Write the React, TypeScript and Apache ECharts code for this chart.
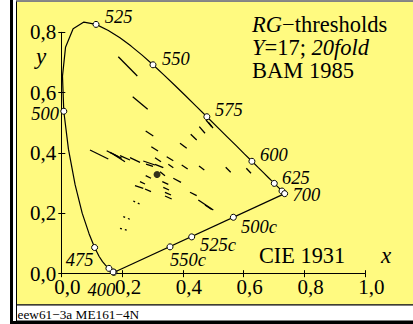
import { useEffect, useRef } from 'react';
import * as echarts from 'echarts';

// CIE 1931 spectral locus (2°)
const wavelengths = [380,385,390,395,400,405,410,415,420,425,430,435,440,445,450,455,460,465,470,475,480,485,490,495,500,505,510,515,520,525,530,535,540,545,550,555,560,565,570,575,580,585,590,595,600,605,610,615,620,625,630,635,640,645,650,660,670,680,690,700];
const locusX = [0.1741,0.1740,0.1738,0.1736,0.1733,0.1730,0.1726,0.1721,0.1714,0.1703,0.1689,0.1669,0.1644,0.1611,0.1566,0.1510,0.1440,0.1355,0.1241,0.1096,0.0913,0.0687,0.0454,0.0235,0.0082,0.0039,0.0139,0.0389,0.0743,0.1142,0.1547,0.1929,0.2296,0.2658,0.3016,0.3373,0.3731,0.4087,0.4441,0.4788,0.5125,0.5448,0.5752,0.6029,0.6270,0.6482,0.6658,0.6801,0.6915,0.7006,0.7079,0.7140,0.7190,0.7230,0.7260,0.7300,0.7320,0.7334,0.7344,0.7347];
const locusY = [0.0050,0.0050,0.0049,0.0049,0.0048,0.0048,0.0048,0.0048,0.0051,0.0058,0.0069,0.0086,0.0109,0.0138,0.0177,0.0227,0.0297,0.0399,0.0578,0.0868,0.1327,0.2007,0.2950,0.4127,0.5384,0.6548,0.7502,0.8120,0.8338,0.8262,0.8059,0.7816,0.7543,0.7243,0.6923,0.6589,0.6245,0.5896,0.5547,0.5202,0.4866,0.4544,0.4242,0.3965,0.3725,0.3514,0.3340,0.3197,0.3083,0.2993,0.2920,0.2859,0.2809,0.2770,0.2740,0.2700,0.2680,0.2666,0.2656,0.2653];

const markedWavelengths = [400, 425, 450, 475, 500, 525, 550, 575, 600, 625, 650, 700];
const labeledWavelengths = [400, 475, 500, 525, 550, 575, 600, 625, 700];

const complementaryNames = ['500c', '525c', '550c'];
const complementaryX = [0.566, 0.429, 0.3576];
const complementaryY = [0.187, 0.122, 0.089];

const whitePoint = [0.315, 0.329];

// threshold segments [x1, y1, x2, y2]
const thresholdSegments = [
  [0.1875,0.7191,0.2500,0.6552],
  [0.2349,0.5866,0.2842,0.5448],
  [0.2776,0.4729,0.3026,0.4563],
  [0.2961,0.4209,0.3181,0.4066],
  [0.3905,0.4321,0.4125,0.4156],
  [0.4257,0.4620,0.4454,0.4431],
  [0.4539,0.4872,0.4727,0.4653],
  [0.4760,0.5094,0.4947,0.4872],
  [0.4842,0.5011,0.4990,0.4829],
  [0.0944,0.4099,0.1546,0.3801],
  [0.1493,0.4076,0.1875,0.3877],
  [0.1602,0.4023,0.1987,0.3824],
  [0.1711,0.3957,0.2095,0.3712],
  [0.1931,0.3911,0.2260,0.3768],
  [0.2260,0.3844,0.2589,0.3692],
  [0.2697,0.3735,0.3082,0.3602],
  [0.2786,0.3635,0.3016,0.3559],
  [0.3082,0.3626,0.3355,0.3513],
  [0.3082,0.3844,0.3280,0.3712],
  [0.3467,0.3877,0.3684,0.3745],
  [0.3520,0.3626,0.3684,0.3513],
  [0.3961,0.3602,0.4158,0.3470],
  [0.4530,0.3569,0.4704,0.3437],
  [0.5408,0.3526,0.5572,0.3360],
  [0.6086,0.3493,0.6240,0.3327],
  [0.2776,0.3248,0.2951,0.3162],
  [0.3247,0.3380,0.3411,0.3248],
  [0.3684,0.3162,0.3938,0.3029],
  [0.2589,0.3049,0.2753,0.2973],
  [0.2424,0.2916,0.2697,0.2830],
  [0.2753,0.2807,0.2951,0.2717],
  [0.3322,0.3049,0.3520,0.2963],
  [0.3355,0.2863,0.3543,0.2774],
  [0.3411,0.2698,0.3609,0.2608],
  [0.3411,0.2575,0.3632,0.2476],
  [0.4234,0.2698,0.4454,0.2585],
  [0.4507,0.2442,0.5000,0.2111],
  [0.4727,0.2277,0.4947,0.2128],
];
const dottedSegments = [
  [0.2368,0.2409,0.2645,0.2277],
  [0.2039,0.1889,0.2316,0.1780],
  [0.1931,0.1505,0.2151,0.1448],
];

const xTicks = [0, 0.2, 0.4, 0.6, 0.8, 1.0];
const yTicks = [0, 0.2, 0.4, 0.6, 0.8];

const titleLines = ['{i|RG}\u2212thresholds', '{i|Y}=17; {i|20fold}', 'BAM 1985'];
const footerText = 'eew61\u22123a ME161\u22124N';

// label offsets in pixels (style)
const labelOffsets: Record<string, [number, number]> = {
  '400': [-12.7, 18], '475': [-15, 12], '500': [-18.6, 2.3], '525': [22.5, -7],
  '550': [22.8, -6], '575': [22, -6.7], '600': [22, -6], '625': [21.7, -5.4],
  '700': [21.8, 1.7], '500c': [25.6, 10.2], '525c': [26.3, 8], '550c': [18, 13],
};

const SERIF = '"Liberation Serif", "Times New Roman", serif';
const fmt = (v: number) => v.toFixed(1).replace('.', ',');

export default function App() {
  const ref = useRef<HTMLDivElement>(null);
  useEffect(() => {
    if (!ref.current) return;
    const chart = echarts.init(ref.current, undefined, { renderer: 'svg' });
    const locus = wavelengths.map((_, i) => [locusX[i], locusY[i]]);
    const idx = (w: number) => wavelengths.indexOf(w);
    const purple = [[locusX[idx(700)], locusY[idx(700)]], [locusX[0], locusY[0]]];
    const labelStyle = (name: string) => ({
      show: true, formatter: name, position: 'inside', align: 'center', verticalAlign: 'middle',
      offset: labelOffsets[name], fontFamily: SERIF, fontStyle: 'italic', fontSize: 18.5, color: '#000',
    });
    const markers: any[] = markedWavelengths.map((w) => {
      const i = idx(w);
      const item: any = { value: [locusX[i], locusY[i]], name: String(w) };
      item.label = labeledWavelengths.includes(w) ? labelStyle(String(w)) : { show: false };
      return item;
    });
    complementaryNames.forEach((n, i) => {
      markers.push({ value: [complementaryX[i], complementaryY[i]], name: n, label: labelStyle(n) });
    });
    const tickAxis = (min: number, max: number, inside: boolean, main: boolean, isY: boolean) => ({
      type: 'value', min, max, interval: 0.2,
      position: isY ? 'left' : 'bottom',
      axisLine: { show: main, onZero: false, lineStyle: { color: '#000', width: 1 } },
      axisTick: { show: true, inside, length: isY ? (inside ? 4 : 3) : 3.5, lineStyle: { color: '#000', width: 1 } },
      splitLine: { show: false },
      axisLabel: main
        ? {
            show: true, formatter: fmt, fontFamily: SERIF, fontSize: 21, color: '#000',
            margin: isY ? 5 : 3, ...(isY ? {} : { padding: [0, 0, 0, 12] }),
          }
        : { show: false },
    });
    chart.setOption({
      animation: false,
      backgroundColor: '#ffffff',
      grid: { left: 61.3, right: 47.7, top: 32.3, bottom: 50.3, containLabel: false },
      xAxis: [tickAxis(0, 1, false, true, false), tickAxis(0, 1, true, false, false)],
      yAxis: [tickAxis(0, 0.8, false, true, true), tickAxis(0, 0.8, true, false, true)],
      graphic: [
        { type: 'rect', z: -10, shape: { x: 10, y: 0, width: 3, height: 324 }, style: { fill: '#000' } },
        { type: 'rect', z: -10, shape: { x: 10, y: 321, width: 403, height: 3 }, style: { fill: '#000' } },
        { type: 'rect', z: -9, shape: { x: 16.5, y: 1, width: 400, height: 320 }, style: { fill: '#fff', stroke: '#000', lineWidth: 1 } },
        { type: 'line', z: -8, shape: { x1: 16, y1: 0.8, x2: 413, y2: 0.8 }, style: { stroke: '#888', lineWidth: 1.5 } },
        { type: 'rect', z: -8, shape: { x: 17, y: 2, width: 400, height: 302.5 }, style: { fill: '#fffa80' } },
        { type: 'line', z: -7, shape: { x1: 17, y1: 304.8, x2: 413, y2: 304.8 }, style: { stroke: '#000', lineWidth: 1.2 } },
        ...titleLines.map((t, i) => ({
          type: 'text', x: 252, y: 24 + i * 23, z: 10,
          style: {
            text: t, fontFamily: SERIF, fontSize: 22.5, fill: '#000', verticalAlign: 'middle', align: 'left',
            rich: { i: { fontStyle: 'italic', fontFamily: SERIF, fontSize: 22.5 } },
          },
        })),
        { type: 'text', x: 259, y: 255, z: 10, style: { text: 'CIE 1931', fontFamily: SERIF, fontSize: 22.3, fill: '#000', verticalAlign: 'middle' } },
        { type: 'text', x: 386, y: 255, z: 10, style: { text: 'x', fontFamily: SERIF, fontStyle: 'italic', fontSize: 23, fill: '#000', align: 'center', verticalAlign: 'middle' } },
        { type: 'text', x: 41, y: 56, z: 10, style: { text: 'y', fontFamily: SERIF, fontStyle: 'italic', fontSize: 23, fill: '#000', align: 'center', verticalAlign: 'middle' } },
        { type: 'text', x: 17.5, y: 314, z: 10, style: { text: footerText, fontFamily: SERIF, fontSize: 13.3, fill: '#000', verticalAlign: 'middle' } },
      ],
      series: [
        {
          type: 'line', data: locus, showSymbol: false, clip: false, z: 3,
          lineStyle: { color: '#000', width: 1.2 }, silent: true,
        },
        {
          type: 'line', data: purple, showSymbol: false, clip: false, z: 3,
          lineStyle: { color: '#000', width: 1.2 }, silent: true,
        },
        {
          type: 'lines', coordinateSystem: 'cartesian2d', z: 4, silent: true,
          lineStyle: { color: '#000', width: 1.3, opacity: 1 },
          data: thresholdSegments.map((s) => ({ coords: [[s[0], s[1]], [s[2], s[3]]] })),
        },
        {
          type: 'lines', coordinateSystem: 'cartesian2d', z: 4, silent: true,
          lineStyle: { color: '#000', width: 1.3, opacity: 1, type: [2, 3] },
          data: dottedSegments.map((s) => ({ coords: [[s[0], s[1]], [s[2], s[3]]] })),
        },
        {
          type: 'scatter', data: markers, symbol: 'circle', symbolSize: 6, z: 6, clip: false,
          itemStyle: { color: '#fff', borderColor: '#000', borderWidth: 1, opacity: 1 },
        },
        {
          type: 'scatter', data: [whitePoint], symbol: 'circle', symbolSize: 7, z: 6,
          itemStyle: { color: '#000' },
        },
      ],
    });
    return () => chart.dispose();
  }, []);
  return <div ref={ref} style={{ position: 'absolute', left: 0, top: 0, width: 413, height: 324 }} />;
}
